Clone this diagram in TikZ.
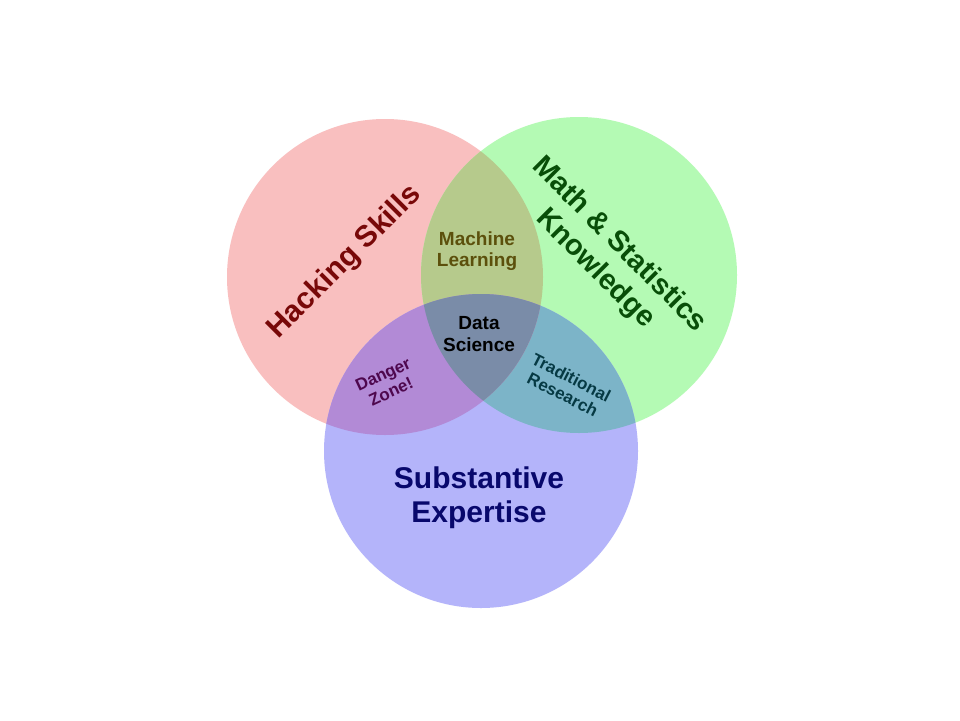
\documentclass[tikz,border=0pt]{standalone}
\usepackage{fontspec}
\setmainfont{Liberation Sans}

\definecolor{hackfill}{RGB}{249,191,191}
\definecolor{mathfill}{RGB}{180,250,180}
\definecolor{subfill}{RGB}{180,180,250}
\definecolor{mlfill}{RGB}{182,202,140}
\definecolor{dzfill}{RGB}{178,138,214}
\definecolor{trfill}{RGB}{124,180,200}
\definecolor{dsfill}{RGB}{122,140,168}
\definecolor{hackink}{RGB}{120,8,8}
\definecolor{mathink}{RGB}{8,78,8}
\definecolor{subink}{RGB}{8,8,108}
\definecolor{mlink}{RGB}{92,80,12}
\definecolor{dzink}{RGB}{78,8,78}
\definecolor{trink}{RGB}{6,58,68}

\begin{document}
\begin{tikzpicture}[x=1pt,y=-1pt,
  venntext/.style={align=center,inner sep=0pt},
  big/.style={venntext,font=\bfseries\fontsize{30}{34}\selectfont},
  small/.style={venntext,font=\bfseries\fontsize{19}{21.5}\selectfont},
  tiny/.style={venntext,font=\bfseries\fontsize{17}{19}\selectfont}]

\useasboundingbox (0,0) rectangle (960,720);
\fill[white] (0,0) rectangle (960,720);

\coordinate (hack) at (385,277);
\coordinate (math) at (579,275);
\coordinate (sub) at (481,451);

\fill[hackfill] (hack) circle[radius=158pt];
\fill[mathfill] (math) circle[radius=158pt];
\fill[subfill] (sub) circle[radius=157pt];

\begin{scope}
\clip (math) circle[radius=158pt];
\fill[trfill] (sub) circle[radius=157pt];
\end{scope}
\begin{scope}
\clip (hack) circle[radius=158pt];
\fill[mlfill] (math) circle[radius=158pt];
\fill[dzfill] (sub) circle[radius=157pt];
\clip (math) circle[radius=158pt];
\fill[dsfill] (sub) circle[radius=157pt];
\end{scope}

\node[big,hackink,rotate=45] (hacking) at (345,262) {Hacking Skills};
\node[big,mathink,rotate=-45,font=\bfseries\fontsize{29}{34}\selectfont] (mathstat) at (607,257) {Math \& Statistics\\Knowledge};
\node[big,subink] (expertise) at (479,498) {Substantive\\Expertise};

\node[small,mlink] (ml) at (477,251) {Machine\\Learning};
\node[small,black] (ds) at (479,334) {Data\\Science};
\node[tiny,dzink,rotate=25] (danger) at (387,383) {Danger\\Zone!};
\node[tiny,trink,rotate=-27] (trad) at (567,386) {Traditional\\Research};
\end{tikzpicture}
\end{document}
